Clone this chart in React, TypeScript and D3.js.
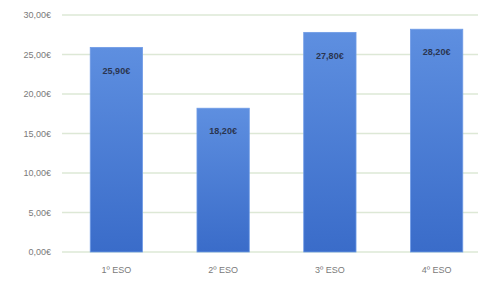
import React, {useEffect, useRef} from 'react';
import * as d3 from 'd3';

const categories = ['1º ESO', '2º ESO', '3º ESO', '4º ESO'];
const values = [25.9, 18.2, 27.8, 28.2];
const valueLabels = ['25,90€', '18,20€', '27,80€', '28,20€'];
const yTicks = [0, 5, 10, 15, 20, 25, 30];
const yTickLabels = ['0,00€', '5,00€', '10,00€', '15,00€', '20,00€', '25,00€', '30,00€'];

const App = () => {
    const svgRef = useRef(null);
    const width = 484;
    const height = 286;

    useEffect(() => {
        const svg = d3.select(svgRef.current);
        svg.selectAll('*').remove();

        const xScale = d3.scaleBand()
            .domain(categories)
            .range([63, 490])
            .paddingInner(0.51)
            .paddingOuter(0.255);

        const yScale = d3.scaleLinear()
            .domain([0, 30])
            .range([252, 15]);

        const defs = svg.append('defs');
        const grad = defs.append('linearGradient')
            .attr('id', 'barGrad')
            .attr('x1', 0).attr('y1', 0).attr('x2', 0).attr('y2', 1);
        grad.append('stop').attr('offset', '0%').attr('stop-color', '#5e8fe0');
        grad.append('stop').attr('offset', '100%').attr('stop-color', '#3a6cc9');

        // gridlines
        svg.append('g')
            .selectAll('line')
            .data(yTicks)
            .enter()
            .append('line')
            .attr('x1', 62)
            .attr('x2', 478)
            .attr('y1', d => yScale(d))
            .attr('y2', d => yScale(d))
            .attr('stroke', '#dde8d6')
            .attr('stroke-width', 1.5);

        // y labels
        svg.append('g')
            .selectAll('text')
            .data(yTicks)
            .enter()
            .append('text')
            .attr('x', 51)
            .attr('y', d => yScale(d))
            .attr('dy', '0.35em')
            .attr('text-anchor', 'end')
            .attr('font-family', 'Liberation Sans, sans-serif')
            .attr('font-size', 9)
            .attr('fill', '#7a7a7a')
            .text((d, i) => yTickLabels[i]);

        // bars
        svg.append('g')
            .selectAll('rect')
            .data(values)
            .enter()
            .append('rect')
            .attr('x', (d, i) => xScale(categories[i]))
            .attr('y', d => yScale(d))
            .attr('width', xScale.bandwidth())
            .attr('height', d => yScale(0) - yScale(d))
            .attr('fill', 'url(#barGrad)')
            .attr('stroke', '#6f9be6')
            .attr('stroke-width', 0.8);

        // value labels
        svg.append('g')
            .selectAll('text')
            .data(values)
            .enter()
            .append('text')
            .attr('x', (d, i) => xScale(categories[i]) + xScale.bandwidth() / 2)
            .attr('y', d => yScale(d) + 23)
            .attr('dy', '0.35em')
            .attr('text-anchor', 'middle')
            .attr('font-family', 'Liberation Sans, sans-serif')
            .attr('font-size', 9)
            .attr('font-weight', 'bold')
            .attr('fill', '#2a3550')
            .text((d, i) => valueLabels[i]);

        // x labels
        svg.append('g')
            .selectAll('text')
            .data(categories)
            .enter()
            .append('text')
            .attr('x', d => xScale(d) + xScale.bandwidth() / 2)
            .attr('y', 270)
            .attr('dy', '0.35em')
            .attr('text-anchor', 'middle')
            .attr('font-family', 'Liberation Sans, sans-serif')
            .attr('font-size', 9)
            .attr('fill', '#7a7a7a')
            .text(d => d);
    }, []);

    return (
        <svg ref={svgRef} width={width} height={height}
             style={{position: 'absolute', left: 0, top: 0, background: '#fff'}}></svg>
    );
};

export default App;
